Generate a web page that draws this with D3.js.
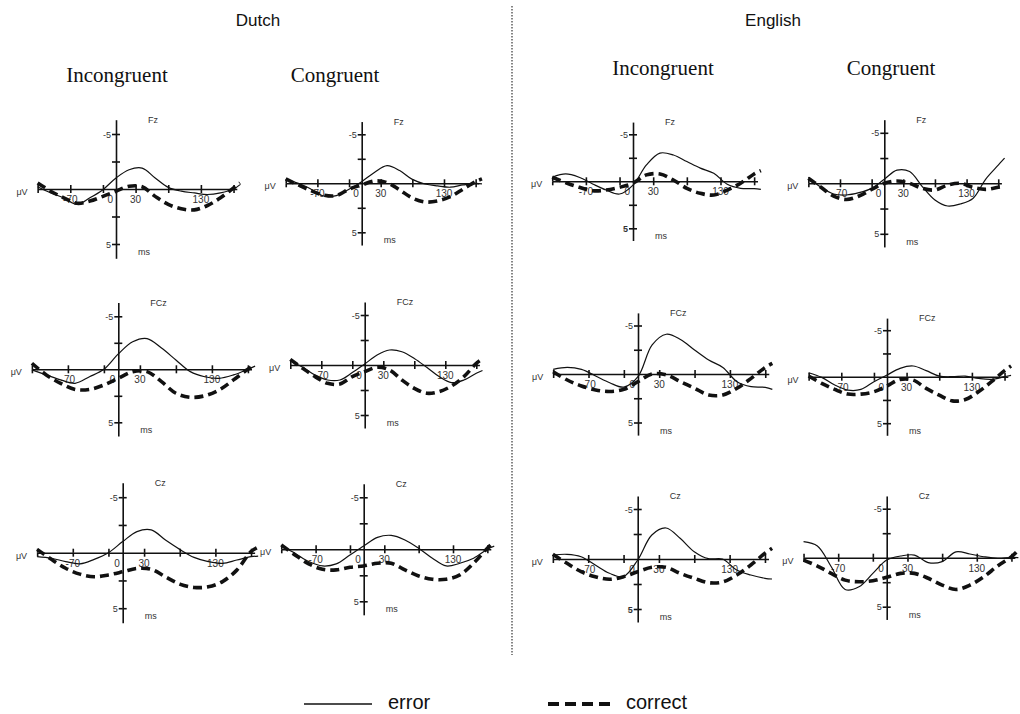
<!DOCTYPE html>
<html>
<head>
<meta charset="utf-8">
<script src="https://cdn.jsdelivr.net/npm/d3@7"></script>
<style>
  body { margin: 0; background: #fff; }
  svg { display: block; }
  .small { font-family: "Liberation Sans", Arial, sans-serif; font-size: 9px; fill: #333; }
  .tick-lab { font-family: "Liberation Sans", Arial, sans-serif; font-size: 10px; fill: #333; }
  .lang { font-family: "Liberation Sans", Arial, sans-serif; font-size: 17px; fill: #111; }
  .cond { font-family: "Liberation Serif", "Times New Roman", serif; font-size: 21px; fill: #111; }
  .legend { font-family: "Liberation Sans", Arial, sans-serif; font-size: 20px; fill: #111; }
</style>
</head>
<body>
<svg id="mainSvg"></svg>
<script>
// sample times (ms) shared by every waveform
const times = [-120, -100, -80, -60, -40, -20, 0, 20, 40, 60, 80, 100, 120, 140, 160, 180, 190];

// amplitudes in microvolts (negative is drawn up)
const dutchIncFzErr  = [-0.2, 0.36, 0.8, 1.4, 0.8, 0.06, -1.0, -1.75, -1.9, -1.0, -0.15, 0.2, 0.36, 0.5, 0.36, 0, -0.4];
const dutchIncFzCor  = [-0.55, 0.2, 0.8, 1.3, 1.1, 0.67, 0.2, -0.25, -0.2, 0.67, 1.4, 1.8, 1.9, 1.5, 0.8, -0.1, -0.55];
const dutchConFzErr  = [-0.35, 0, 0.6, 1.3, 1.25, 0.6, -0.17, -1.1, -1.8, -1.3, -0.4, 0.07, 0.27, 0.4, 0.17, 0, 0.05];
const dutchConFzCor  = [-0.45, 0.17, 0.75, 1.2, 1.25, 0.6, 0.17, -0.24, -0.07, 0.68, 1.5, 1.9, 1.8, 1.37, 0.6, -0.17, -0.45];
const englIncFzErr   = [-0.43, -0.78, -0.43, 0.28, 0.93, 1.35, 0.4, -1.74, -3.0, -2.8, -2.1, -1.4, -0.85, 0.32, 0.75, 0.78, 0.85];
const englIncFzCor   = [-0.43, 0.14, 0.64, 1.0, 0.93, 0.64, 0.2, -0.68, -0.78, -0.14, 0.75, 1.28, 1.46, 0.93, 0.2, -0.78, -1.14];
const englConFzErr   = [-0.6, 0.4, 1.06, 1.16, 0.93, 0.5, -0.4, -1.3, -1.16, 0.33, 1.66, 2.25, 2.05, 1.5, -0.4, -1.8, -2.5];
const englConFzCor   = [-0.5, 0.4, 1.26, 1.6, 1.26, 0.6, 0, -0.23, 0, 0.5, 0.66, 0.17, 0, 0.4, 0.6, 0.4, 0.3];

const dutchIncFCzErr = [0.06, 0.53, 1.0, 1.32, 0.7, 0, -1.45, -2.6, -2.9, -2.0, -0.88, 0.22, 0.7, 0.85, 0.53, 0, -0.3];
const dutchIncFCzCor = [-0.57, 0.53, 1.32, 1.9, 1.9, 1.48, 0.85, 0.22, 0.22, 1.16, 2.26, 2.64, 2.5, 1.95, 1.0, 0, -0.4];
const dutchConFCzErr = [-0.43, 0.23, 1.0, 1.5, 1.5, 0.76, -0.1, -1.0, -1.5, -1.33, -0.66, 0.23, 1.16, 1.76, 1.5, 0.83, 0.55];
const dutchConFCzCor = [-0.56, 0.33, 1.16, 1.83, 1.9, 1.16, 0.66, 0.23, 0.5, 1.5, 2.33, 2.82, 2.66, 2.1, 1.16, -0.17, -0.6];
const englIncFCzErr  = [-0.48, -0.68, -0.48, 0.2, 0.9, 1.35, 0.27, -3.0, -4.1, -3.56, -2.47, -1.44, -0.68, 0.79, 1.3, 1.37, 1.58];
const englIncFCzCor  = [-0.24, 0.62, 1.23, 1.64, 1.8, 1.58, 0.79, 0.0, 0.1, 0.79, 1.47, 2.16, 2.16, 1.47, 0.45, -0.68, -1.1];
const englConFCzErr  = [-0.43, 0.07, 0.9, 1.44, 1.37, 0.54, -0.18, -0.9, -1.15, -0.65, -0.07, 0, -0.07, 0.18, 0.29, 0, -0.15];
const englConFCzCor  = [-0.07, 0.72, 1.37, 1.87, 1.87, 1.62, 1.0, 0.29, 0.36, 1.26, 1.98, 2.6, 2.45, 1.62, 0.54, -0.65, -1.15];

const dutchIncCzErr  = [0.36, 0.5, 0.8, 1.0, 0.6, 0, -1.0, -1.9, -2.05, -1.14, -0.3, 0.42, 0.8, 0.96, 0.66, 0.36, 0.3];
const dutchIncCzCor  = [-0.3, 0.6, 1.4, 1.93, 2.17, 2.0, 1.72, 1.42, 1.5, 2.17, 2.83, 3.13, 3.07, 2.6, 1.57, -0.1, -0.5];
const dutchConCzErr  = [-0.32, 0.38, 1.18, 1.6, 1.4, 0.54, -0.32, -1.15, -1.34, -0.9, -0.1, 0.86, 1.6, 1.34, 0.86, 0, -0.3];
const dutchConCzCor  = [-0.42, 0.54, 1.4, 1.92, 1.98, 1.73, 1.6, 1.34, 1.34, 1.98, 2.56, 2.88, 2.88, 2.46, 1.34, -0.1, -0.73];
const englIncCzErr   = [-0.4, -0.47, -0.23, 0.6, 1.43, 1.75, 0.1, -2.4, -3.1, -2.07, -0.73, -0.03, 0, 1.1, 1.6, 1.93, 2.0];
const englIncCzCor   = [-0.47, 0.43, 1.27, 1.77, 2.03, 1.77, 1.27, 0.83, 0.83, 1.43, 1.93, 2.37, 2.3, 1.6, 0.6, -0.57, -1.07];
const englConCzErr   = [-1.64, -1.2, 0.92, 3.24, 2.97, 1.6, 0.24, -0.17, -0.27, 0.5, 0.4, -0.6, -0.38, -0.1, 0.07, -0.03, 0];
const englConCzCor   = [0.24, 0.85, 1.6, 2.29, 2.46, 2.35, 2.0, 1.6, 1.6, 2.1, 2.8, 3.24, 2.8, 1.95, 0.85, -0.1, -0.78];

const xTicks = [-120, -70, -20, 30, 80, 130, 180];
const xLabels = [-70, 30, 130];
const yTicks = [-5, -2.5, 2.5, 5];
const yLabels = [-5, 5];

const panels = [
  { lang: 'Dutch',   cond: 'Incongruent', site: 'Fz',  err: dutchIncFzErr,  cor: dutchIncFzCor },
  { lang: 'Dutch',   cond: 'Congruent',   site: 'Fz',  err: dutchConFzErr,  cor: dutchConFzCor },
  { lang: 'English', cond: 'Incongruent', site: 'Fz',  err: englIncFzErr,   cor: englIncFzCor },
  { lang: 'English', cond: 'Congruent',   site: 'Fz',  err: englConFzErr,   cor: englConFzCor },
  { lang: 'Dutch',   cond: 'Incongruent', site: 'FCz', err: dutchIncFCzErr, cor: dutchIncFCzCor },
  { lang: 'Dutch',   cond: 'Congruent',   site: 'FCz', err: dutchConFCzErr, cor: dutchConFCzCor },
  { lang: 'English', cond: 'Incongruent', site: 'FCz', err: englIncFCzErr,  cor: englIncFCzCor },
  { lang: 'English', cond: 'Congruent',   site: 'FCz', err: englConFCzErr,  cor: englConFCzCor },
  { lang: 'Dutch',   cond: 'Incongruent', site: 'Cz',  err: dutchIncCzErr,  cor: dutchIncCzCor },
  { lang: 'Dutch',   cond: 'Congruent',   site: 'Cz',  err: dutchConCzErr,  cor: dutchConCzCor },
  { lang: 'English', cond: 'Incongruent', site: 'Cz',  err: englIncCzErr,   cor: englIncCzCor },
  { lang: 'English', cond: 'Congruent',   site: 'Cz',  err: englConCzErr,   cor: englConCzCor },
];

// geometry of each panel: x of the 0 ms axis, baseline y, px per ms, px per uV
const frames = [
  { ax: 116,   by: 189,   kx: 0.653, ky: 11.0 },
  { ax: 361.7, by: 183.3, kx: 0.633, ky: 9.8 },
  { ax: 633,   by: 181.3, kx: 0.673, ky: 9.4 },
  { ax: 884.3, by: 183.3, kx: 0.633, ky: 10.1 },
  { ax: 118.3, by: 369.3, kx: 0.72,  ky: 10.6 },
  { ax: 364.7, by: 365,   kx: 0.62,  ky: 10.0 },
  { ax: 638,   by: 374,   kx: 0.707, ky: 9.7 },
  { ax: 887,   by: 376.7, kx: 0.653, ky: 9.3 },
  { ax: 122.7, by: 552.7, kx: 0.713, ky: 11.1 },
  { ax: 363.7, by: 549.3, kx: 0.687, ky: 10.4 },
  { ax: 637.7, by: 559,   kx: 0.707, ky: 10.0 },
  { ax: 886.7, by: 557.7, kx: 0.693, ky: 9.8 },
];

const W = 1020, H = 714;
const svg = d3.select('#mainSvg').attr('width', W).attr('height', H);

// headers
svg.append('text').attr('class', 'lang').attr('x', 258).attr('y', 26).attr('text-anchor', 'middle').text('Dutch');
svg.append('text').attr('class', 'lang').attr('x', 773).attr('y', 26).attr('text-anchor', 'middle').text('English');
const condHead = [
  { t: 'Incongruent', x: 117, y: 82 },
  { t: 'Congruent',   x: 335, y: 82 },
  { t: 'Incongruent', x: 663, y: 75 },
  { t: 'Congruent',   x: 891, y: 75 },
];
svg.selectAll('text.cond').data(condHead).join('text')
  .attr('class', 'cond')
  .attr('x', d => d.x).attr('y', d => d.y)
  .attr('text-anchor', 'middle')
  .text(d => d.t);

// divider
svg.append('line')
  .attr('x1', 512).attr('x2', 512).attr('y1', 6).attr('y2', 655)
  .attr('stroke', '#444').attr('stroke-width', 1.3)
  .attr('stroke-dasharray', '1.5,1.5');

const line = d3.line().curve(d3.curveCatmullRom.alpha(0.5));

panels.forEach(function (p, i) {
  const f = frames[i];
  const x = d3.scaleLinear()
    .domain([-120, 185])
    .range([f.ax - 120 * f.kx, f.ax + 185 * f.kx]);
  const y = d3.scaleLinear()
    .domain([-6.3, 6.3])
    .range([f.by - 6.3 * f.ky, f.by + 6.3 * f.ky]);

  const g = svg.append('g');

  // x axis with crossing ticks
  const xa = g.append('g').attr('transform', `translate(0,${f.by})`);
  xa.call(d3.axisBottom(x).tickValues(xTicks).tickSize(4).tickSizeOuter(0).tickFormat(''));
  const xb = g.append('g').attr('transform', `translate(0,${f.by})`);
  xb.call(d3.axisTop(x).tickValues(xTicks).tickSize(4).tickSizeOuter(0).tickFormat(''));
  xb.select('.domain').remove();

  // y axis with crossing ticks
  const ya = g.append('g').attr('transform', `translate(${f.ax},0)`);
  ya.call(d3.axisLeft(y).tickValues(yTicks).tickSize(4).tickSizeOuter(0).tickFormat(''));
  const yb = g.append('g').attr('transform', `translate(${f.ax},0)`);
  yb.call(d3.axisRight(y).tickValues(yTicks).tickSize(4).tickSizeOuter(0).tickFormat(''));
  yb.select('.domain').remove();

  g.selectAll('.domain, .tick line').attr('stroke', '#111').attr('stroke-width', 1.6);

  // tick labels
  g.selectAll('text.xl').data(xLabels).join('text')
    .attr('class', 'tick-lab')
    .attr('x', d => x(d)).attr('y', f.by + 14)
    .attr('text-anchor', 'middle')
    .text(d => d);
  g.append('text').attr('class', 'tick-lab')
    .attr('x', f.ax - 3).attr('y', f.by + 14)
    .attr('text-anchor', 'end').text('0');
  g.selectAll('text.yl').data(yLabels).join('text')
    .attr('class', 'small')
    .attr('x', f.ax - 5).attr('y', d => y(d) + 3.5)
    .attr('text-anchor', 'end')
    .style('font-weight', d => (d === 5 && p.lang === 'English' && p.cond === 'Incongruent' && p.site !== 'FCz') ? 'bold' : null)
    .text(d => d);
  g.append('text').attr('class', 'small')
    .attr('x', x(-120) - 10).attr('y', f.by + 6)
    .attr('text-anchor', 'end').text('μV');
  g.append('text').attr('class', 'small')
    .attr('x', f.ax + 22).attr('y', y(5) + 11)
    .text('ms');
  g.append('text').attr('class', 'small')
    .attr('x', f.ax + 32).attr('y', y(-6.3) + 3)
    .text(p.site);

  // waveforms
  const errPts = times.map((t, k) => [x(t), y(p.err[k])]);
  const corPts = times.map((t, k) => [x(t), y(p.cor[k])]);
  g.append('path').attr('d', line(errPts))
    .attr('fill', 'none').attr('stroke', '#111').attr('stroke-width', 1.2);
  g.append('path').attr('d', line(corPts))
    .attr('fill', 'none').attr('stroke', '#111').attr('stroke-width', 3.6)
    .attr('stroke-dasharray', '9,5');
});

// legend
svg.append('line').attr('x1', 304).attr('x2', 372).attr('y1', 704).attr('y2', 704)
  .attr('stroke', '#111').attr('stroke-width', 1.6);
svg.append('text').attr('class', 'legend').attr('x', 388).attr('y', 709).text('error');
svg.append('line').attr('x1', 548).attr('x2', 610).attr('y1', 704).attr('y2', 704)
  .attr('stroke', '#111').attr('stroke-width', 4).attr('stroke-dasharray', '11,6');
svg.append('text').attr('class', 'legend').attr('x', 626).attr('y', 709).text('correct');
</script>
</body>
</html>
